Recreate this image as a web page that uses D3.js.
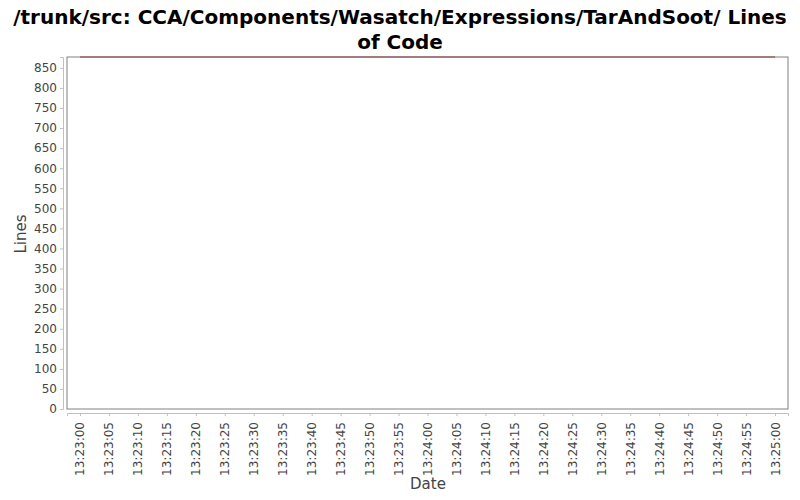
<!DOCTYPE html>
<html>
<head>
<meta charset="utf-8">
<script src="https://cdn.jsdelivr.net/npm/d3@7"></script>
<style>
  body { margin: 0; background: #fff; }
  svg text { font-family: "DejaVu Sans", sans-serif; }
</style>
</head>
<body>
<div id="chart"></div>
<script>
'use strict';

// datos
const titleLines = ['/trunk/src: CCA/Components/Wasatch/Expressions/TarAndSoot/ Lines', 'of Code'];
const dates = ['13:23:00', '13:25:00'];
const linesOfCode = [877, 877];
const yTicks = d3.range(0, 851, 50);
const xTickLabels = [
  '13:23:00', '13:23:05', '13:23:10', '13:23:15', '13:23:20', '13:23:25',
  '13:23:30', '13:23:35', '13:23:40', '13:23:45', '13:23:50', '13:23:55',
  '13:24:00', '13:24:05', '13:24:10', '13:24:15', '13:24:20', '13:24:25',
  '13:24:30', '13:24:35', '13:24:40', '13:24:45', '13:24:50', '13:24:55',
  '13:25:00'
];
const yMax = 877;

function drawChart(elementID) {
  const width = 800;
  const height = 500;
  const plot = { left: 67, right: 788, top: 57, bottom: 409 };

  const parse = d3.timeParse('%H:%M:%S');
  const points = dates.map((d, i) => [parse(d), linesOfCode[i]]);

  // margen de ~2.2 s a cada lado, como en la imagen
  const scaleX = d3.scaleTime()
    .domain([d3.timeMillisecond.offset(parse(dates[0]), -2240),
             d3.timeMillisecond.offset(parse(dates[dates.length - 1]), 2240)])
    .range([plot.left, plot.right]);

  const scaleY = d3.scaleLinear()
    .domain([0, yMax])
    .range([plot.bottom, plot.top]);

  document.getElementById(elementID).innerHTML = '';
  const svg = d3.select('#' + elementID)
    .append('svg')
    .attr('width', width)
    .attr('height', height);

  // titulo
  svg.append('text')
    .attr('x', 400)
    .attr('text-anchor', 'middle')
    .attr('font-size', 20)
    .attr('font-weight', 'bold')
    .attr('fill', '#000')
    .selectAll('tspan')
    .data(titleLines)
    .enter()
    .append('tspan')
    .attr('x', 400)
    .attr('y', (d, i) => 24 + i * 25)
    .text(d => d);

  // fondo y marco
  svg.append('rect')
    .attr('x', plot.left)
    .attr('y', plot.top)
    .attr('width', plot.right - plot.left)
    .attr('height', plot.bottom - plot.top)
    .attr('fill', '#fff')
    .attr('stroke', '#808080')
    .attr('stroke-width', 1);

  // eje Y
  const yAxis = d3.axisLeft(scaleY)
    .tickValues(yTicks)
    .tickSize(3)
    .tickPadding(3);
  const gy = svg.append('g')
    .attr('class', 'axisY')
    .attr('transform', `translate(${plot.left - 4}, 0)`)
    .call(yAxis);
  gy.select('.domain').attr('stroke', '#c0c0c0');
  gy.selectAll('.tick line').attr('stroke', '#c0c0c0');
  gy.selectAll('.tick text').attr('font-size', 12).attr('fill', '#444');

  // eje X
  const xAxis = d3.axisBottom(scaleX)
    .tickValues(xTickLabels.map(parse))
    .tickFormat(d3.timeFormat('%H:%M:%S'))
    .tickSize(3)
    .tickPadding(3);
  const gx = svg.append('g')
    .attr('class', 'axisX')
    .attr('transform', `translate(0, ${plot.bottom + 4})`)
    .call(xAxis);
  gx.select('.domain').attr('stroke', '#c0c0c0');
  gx.selectAll('.tick line').attr('stroke', '#c0c0c0');
  gx.selectAll('.tick text')
    .attr('font-size', 12)
    .attr('fill', '#444')
    .attr('text-anchor', 'end')
    .attr('dy', null)
    .attr('y', 0)
    .attr('transform', 'translate(4, 9) rotate(-90)');

  // linea de datos
  const line = d3.line()
    .x(d => scaleX(d[0]))
    .y(d => scaleY(d[1]));
  svg.append('path')
    .datum(points)
    .attr('d', line)
    .attr('fill', 'none')
    .attr('stroke', '#833c3c')
    .attr('stroke-width', 1.2);

  // titulos de ejes
  svg.append('text')
    .attr('transform', 'translate(26, 234) rotate(-90)')
    .attr('text-anchor', 'middle')
    .attr('font-size', 15)
    .attr('fill', '#444')
    .text('Lines');

  svg.append('text')
    .attr('x', 428)
    .attr('y', 489)
    .attr('text-anchor', 'middle')
    .attr('font-size', 15)
    .attr('fill', '#444')
    .text('Date');
}

drawChart('chart');
</script>
</body>
</html>
